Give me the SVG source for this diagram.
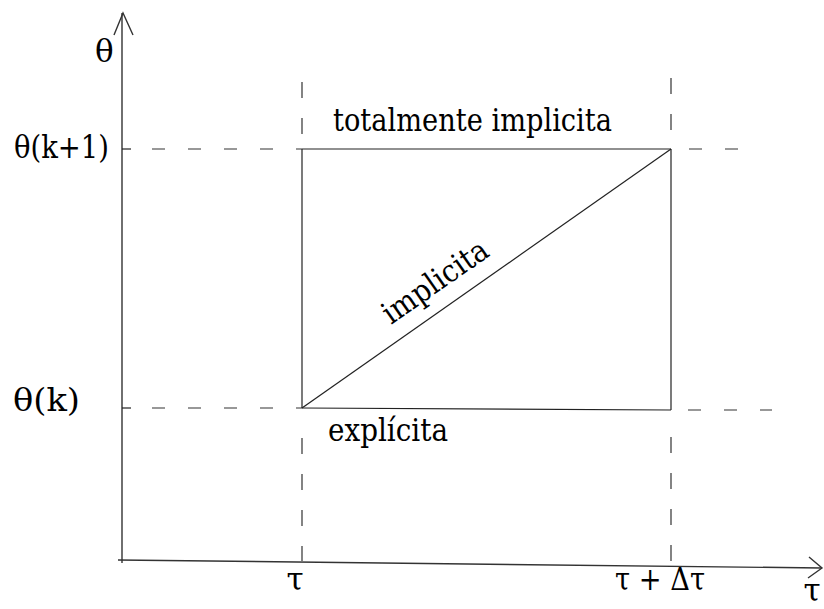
<svg xmlns="http://www.w3.org/2000/svg" width="824" height="609" viewBox="0 0 824 609">
<style>
text{font-family:"DejaVu Serif",serif;font-size:31px;fill:#000}
.ax{stroke:#333;stroke-width:1.4;fill:none}
.ln{stroke:#222;stroke-width:1.2;fill:none}
.dh{stroke:#333;stroke-width:1.2;fill:none;stroke-dasharray:13 23}
.dv{stroke:#333;stroke-width:1.2;fill:none;stroke-dasharray:16 20}
</style>
<rect width="824" height="609" fill="#fff"/>
<g id="axes">
<line class="ax" x1="122" y1="563" x2="122" y2="13"/>
<polyline class="ax" points="114,35 123,13 133,35"/>
<line class="ax" x1="118" y1="560" x2="822" y2="568"/>
<polyline class="ax" points="809,557 822,568 808,578"/>
</g>
<g id="connectors">
<line class="dh" x1="152" y1="149" x2="302" y2="149"/>
<line class="ln" x1="122" y1="149" x2="131" y2="149"/>
<line class="dh" x1="689" y1="149" x2="740" y2="149"/>
<line class="dh" x1="152" y1="408" x2="302" y2="408"/>
<line class="ln" x1="122" y1="408" x2="131" y2="408"/>
<line class="dh" x1="688" y1="410" x2="772" y2="410"/>
<line class="dv" x1="302" y1="82" x2="302" y2="149"/>
<line class="dv" x1="302" y1="438" x2="302" y2="561"/>
<line class="dv" x1="671" y1="78" x2="671" y2="149"/>
<line class="dv" x1="671" y1="437" x2="671" y2="565"/>
</g>
<g id="box">
<line class="ln" x1="302" y1="149" x2="671" y2="149"/>
<line class="ln" x1="302" y1="149" x2="302" y2="408"/>
<line class="ln" x1="671" y1="149" x2="671" y2="410"/>
<line class="ln" x1="302" y1="408" x2="671" y2="410"/>
<line class="ln" x1="302" y1="408" x2="671" y2="149"/>
</g>
<g id="labels">
<text x="95" y="62">θ</text>
<text x="14" y="158" textLength="95" lengthAdjust="spacingAndGlyphs">θ(k+1)</text>
<text x="13" y="411" textLength="67" lengthAdjust="spacingAndGlyphs">θ(k)</text>
<text x="333" y="131" textLength="279" lengthAdjust="spacingAndGlyphs">totalmente implicita</text>
<text x="328" y="441" textLength="120" lengthAdjust="spacingAndGlyphs">explícita</text>
<text x="441" y="290" text-anchor="middle" transform="rotate(-35 441 290)" textLength="122" lengthAdjust="spacingAndGlyphs">implicita</text>
<text x="295" y="590" text-anchor="middle">τ</text>
<text x="660" y="590" text-anchor="middle" textLength="90" lengthAdjust="spacingAndGlyphs">τ + Δτ</text>
<text x="812" y="601" text-anchor="middle">τ</text>
</g>
</svg>
